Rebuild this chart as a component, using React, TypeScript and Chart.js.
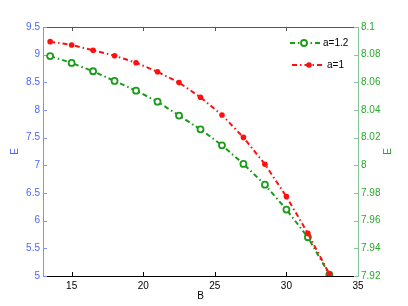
import React, { useEffect, useRef } from "react";
import { Chart, registerables } from "chart.js";

Chart.register(...registerables);

// ---- data ----
const B = [13.5, 15, 16.5, 18, 19.5, 21, 22.5, 24, 25.5, 27, 28.5, 30, 31.5, 33];
const E_a1 = [9.235, 9.175, 9.08, 8.98, 8.855, 8.69, 8.495, 8.23, 7.91, 7.505, 7.02, 6.435, 5.77, 5.035];
const E_a12 = [8.079, 8.074, 8.068, 8.061, 8.054, 8.046, 8.036, 8.026, 8.0145, 8.001, 7.986, 7.968, 7.948, 7.921];
const xTicks = [15, 20, 25, 30, 35];
const yLeftTicks = [5, 5.5, 6, 6.5, 7, 7.5, 8, 8.5, 9, 9.5];
const yRightTicks = [7.92, 7.94, 7.96, 7.98, 8, 8.02, 8.04, 8.06, 8.08, 8.1];
const seriesLabels = ["a=1.2", "a=1"];
const xTitle = "B";
const yTitle = "E";

const GREEN = "#1c9a1c";
const RED = "#ff1010";
const BLUE_TXT = "#4a66ff";
const BLUE_AX = "#7d92ff";
const GREEN_TXT = "#2aa82a";
const GREEN_AX = "#86c79a";
const FONT = "'Liberation Sans', Arial, sans-serif";
const DASH = [5, 3, 1.5, 3];

const fmt = (v: number) => String(Number(Number(v).toFixed(2)));

const axesPlugin = {
  id: "matlabAxes",
  beforeDatasetsDraw(chart: any) {
    const { ctx, chartArea } = chart;
    const { left, right, top, bottom } = chartArea;
    const xs = chart.scales.x;
    const yl = chart.scales.y;
    const yr = chart.scales.yR;
    const tl = 4;
    ctx.save();
    ctx.lineWidth = 1;
    // top border
    ctx.strokeStyle = "#555";
    ctx.beginPath();
    ctx.moveTo(left, top + 0.5);
    ctx.lineTo(right, top + 0.5);
    ctx.stroke();
    xTicks.forEach((v) => {
      const px = Math.round(xs.getPixelForValue(v)) + 0.5;
      ctx.beginPath();
      ctx.moveTo(px, top);
      ctx.lineTo(px, top + tl);
      ctx.stroke();
    });
    // bottom axis
    ctx.strokeStyle = "#000";
    ctx.beginPath();
    ctx.moveTo(left, bottom + 0.5);
    ctx.lineTo(right, bottom + 0.5);
    ctx.stroke();
    xTicks.forEach((v) => {
      const px = Math.round(xs.getPixelForValue(v)) + 0.5;
      ctx.beginPath();
      ctx.moveTo(px, bottom);
      ctx.lineTo(px, bottom - tl);
      ctx.stroke();
    });
    // left axis
    ctx.strokeStyle = BLUE_AX;
    ctx.beginPath();
    ctx.moveTo(left + 0.5, top);
    ctx.lineTo(left + 0.5, bottom + 1);
    ctx.stroke();
    yLeftTicks.forEach((v) => {
      const py = Math.round(yl.getPixelForValue(v)) + 0.5;
      ctx.beginPath();
      ctx.moveTo(left, py);
      ctx.lineTo(left + tl, py);
      ctx.stroke();
    });
    // right axis
    ctx.strokeStyle = GREEN_AX;
    ctx.beginPath();
    ctx.moveTo(right + 0.5, top);
    ctx.lineTo(right + 0.5, bottom + 1);
    ctx.stroke();
    yRightTicks.forEach((v) => {
      const py = Math.round(yr.getPixelForValue(v)) + 0.5;
      ctx.beginPath();
      ctx.moveTo(right, py);
      ctx.lineTo(right - tl, py);
      ctx.stroke();
    });
    ctx.restore();
  },
  afterDraw(chart: any) {
    // right-axis title, rotated counter-clockwise like the left one
    const { ctx, chartArea } = chart;
    const cy = (chartArea.top + chartArea.bottom) / 2;
    ctx.save();
    ctx.translate(388, cy);
    ctx.rotate(-Math.PI / 2);
    ctx.fillStyle = GREEN_TXT;
    ctx.font = `10px ${FONT}`;
    ctx.textAlign = "center";
    ctx.textBaseline = "middle";
    ctx.fillText(yTitle, 0, 0);
    ctx.restore();
  },
};

const legendPlugin = {
  id: "matlabLegend",
  afterDraw(chart: any) {
    const { ctx } = chart;
    const items = [
      { ds: chart.data.datasets[1], y: 43, x0: 290, x1: 320, mx: 304, tx: 323 },
      { ds: chart.data.datasets[0], y: 65, x0: 292, x1: 323, mx: 309, tx: 327 },
    ];
    ctx.save();
    items.forEach((it) => {
      const ds = it.ds;
      ctx.strokeStyle = ds.borderColor;
      ctx.lineWidth = ds.borderWidth;
      ctx.setLineDash(DASH);
      ctx.beginPath();
      ctx.moveTo(it.x0, it.y);
      ctx.lineTo(it.x1, it.y);
      ctx.stroke();
      ctx.setLineDash([]);
      ctx.beginPath();
      ctx.arc(it.mx, it.y, ds.pointRadius, 0, Math.PI * 2);
      ctx.fillStyle = ds.pointBackgroundColor;
      ctx.fill();
      if (ds.pointBorderWidth > 0) {
        ctx.lineWidth = ds.pointBorderWidth;
        ctx.strokeStyle = ds.pointBorderColor;
        ctx.stroke();
      }
      ctx.fillStyle = "#000";
      ctx.font = `10px ${FONT}`;
      ctx.textBaseline = "middle";
      ctx.textAlign = "left";
      ctx.fillText(ds.label, it.tx, it.y);
    });
    ctx.restore();
  },
};

export default function App() {
  const ref = useRef<HTMLCanvasElement | null>(null);
  useEffect(() => {
    if (!ref.current) return;
    const chart = new Chart(ref.current, {
      type: "line",
      data: {
        datasets: [
          {
            label: seriesLabels[1],
            data: B.map((b, i) => ({ x: b, y: E_a1[i] })),
            yAxisID: "y",
            borderColor: RED,
            borderWidth: 2,
            borderDash: DASH,
            pointRadius: 2.8,
            pointBackgroundColor: RED,
            pointBorderColor: RED,
            pointBorderWidth: 0,
            fill: false,
            tension: 0,
            order: 0,
          },
          {
            label: seriesLabels[0],
            data: B.map((b, i) => ({ x: b, y: E_a12[i] })),
            yAxisID: "yR",
            borderColor: GREEN,
            borderWidth: 2,
            borderDash: DASH,
            pointRadius: 3,
            pointBackgroundColor: "#fff",
            pointBorderColor: GREEN,
            pointBorderWidth: 1.8,
            fill: false,
            tension: 0,
            order: 1,
          },
        ],
      },
      options: {
        responsive: false,
        animation: false,
        layout: { padding: { top: 27, left: 0, right: 0, bottom: 0 } },
        plugins: { legend: { display: false }, tooltip: { enabled: false } },
        scales: {
          x: {
            type: "linear",
            position: "bottom",
            min: 13,
            max: 35,
            afterBuildTicks: (s: any) => {
              s.ticks = xTicks.map((v) => ({ value: v }));
            },
            afterFit: (s: any) => {
              s.height = 30;
            },
            ticks: {
              color: "#000",
              font: { size: 10, family: FONT },
              padding: 4,
              maxRotation: 0,
              autoSkip: false,
              callback: (v: any) => fmt(v),
            },
            grid: { display: false, drawTicks: false },
            border: { display: false },
            title: {
              display: true,
              text: xTitle,
              color: "#000",
              font: { size: 10, family: FONT },
              padding: { top: 0, bottom: 4 },
            },
          },
          y: {
            type: "linear",
            position: "left",
            min: 5,
            max: 9.5,
            afterBuildTicks: (s: any) => {
              s.ticks = yLeftTicks.map((v) => ({ value: v }));
            },
            afterFit: (s: any) => {
              s.width = 43;
            },
            ticks: {
              color: BLUE_TXT,
              font: { size: 10, family: FONT },
              padding: 3,
              autoSkip: false,
              callback: (v: any) => fmt(v),
            },
            grid: { display: false, drawTicks: false },
            border: { display: false },
            title: {
              display: true,
              text: yTitle,
              color: BLUE_TXT,
              font: { size: 10, family: FONT },
              padding: { top: 9, bottom: 0 },
            },
          },
          yR: {
            type: "linear",
            position: "right",
            min: 7.92,
            max: 8.1,
            afterBuildTicks: (s: any) => {
              s.ticks = yRightTicks.map((v) => ({ value: v }));
            },
            afterFit: (s: any) => {
              s.width = 50;
            },
            ticks: {
              color: GREEN_TXT,
              font: { size: 10, family: FONT },
              padding: 3,
              autoSkip: false,
              callback: (v: any) => fmt(v),
            },
            grid: { display: false, drawTicks: false },
            border: { display: false },
            title: { display: false },
          },
        },
      },
      plugins: [axesPlugin, legendPlugin],
    } as any);
    return () => chart.destroy();
  }, []);
  return (
    <div style={{ position: "fixed", left: 0, top: 0, width: 408, height: 306, background: "#fff" }}>
      <canvas ref={ref} width={408} height={306} style={{ display: "block" }} />
    </div>
  );
}
